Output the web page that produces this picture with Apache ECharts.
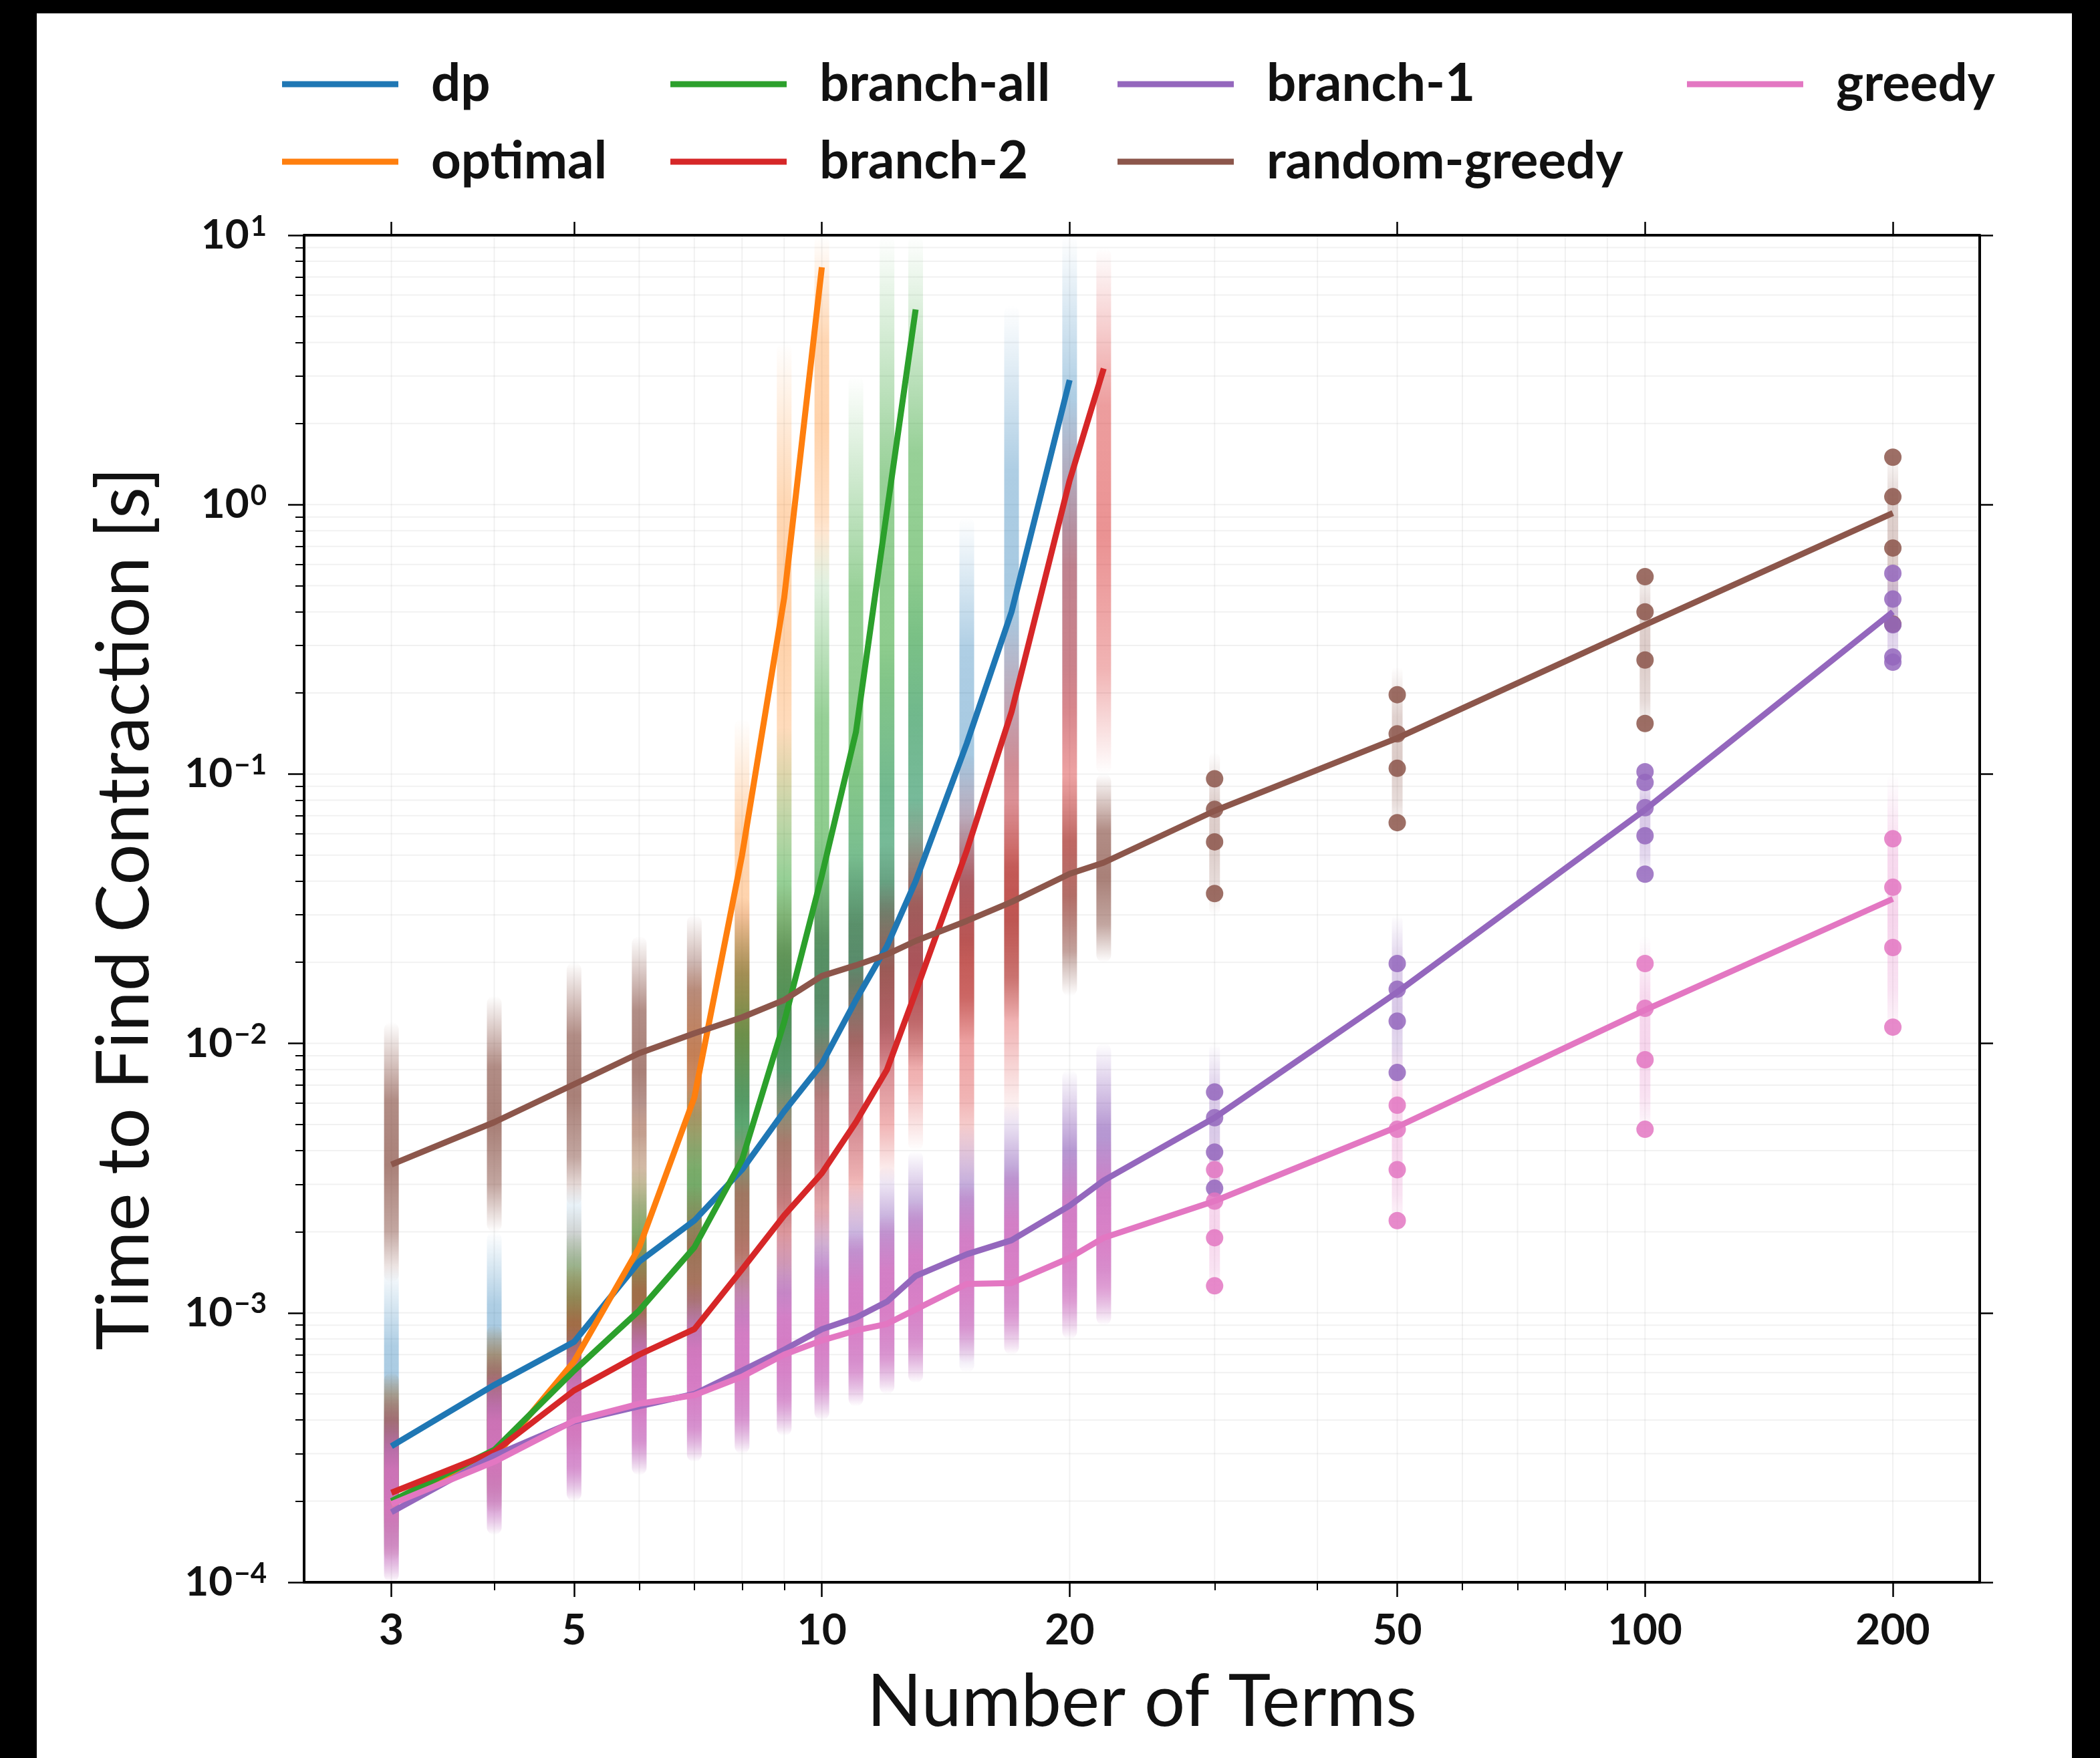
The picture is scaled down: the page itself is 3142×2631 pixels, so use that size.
<!DOCTYPE html>
<html>
<head>
<meta charset="utf-8">
<script src="https://cdn.jsdelivr.net/npm/echarts@6/dist/echarts.min.js"></script>
<style>
html,body{margin:0;padding:0;background:#000;}
#frame{position:absolute;left:55px;top:20px;width:3045px;height:2611px;background:#fff;overflow:hidden;}
#chart{position:absolute;left:-55px;top:-20px;width:3142px;height:2631px;}
</style>
</head>
<body>
<div id="frame"><div id="chart"></div></div>
<script>
// ---------------- data ----------------
const terms = [3, 4, 5, 6, 7, 8, 9, 10, 11, 12, 13, 15, 17, 20, 22, 30, 50, 100, 200];
const xMajorTicks = [3, 5, 10, 20, 50, 100, 200];
const xMinorTicks = [4, 6, 7, 8, 9, 30, 40, 60, 70, 80, 90];
const yDecades = [1e-4, 1e-3, 1e-2, 1e-1, 1, 10];

const dpTime = [3.2e-4, 5.4e-4, 7.8e-4, 1.55e-3, 2.2e-3, 3.4e-3, 5.6e-3, 8.4e-3, 1.45e-2, 2.3e-2, 4.0e-2, 0.13, 0.40, 2.9];
const optimalTime = [1.95e-4, 2.9e-4, 6.6e-4, 1.75e-3, 6.3e-3, 0.05, 0.45, 7.6];
const branchAllTime = [2.0e-4, 3.1e-4, 6.1e-4, 1.02e-3, 1.75e-3, 3.7e-3, 0.012, 0.042, 0.143, 0.95, 5.3];
const branch2Time = [2.15e-4, 3.05e-4, 5.15e-4, 7.0e-4, 8.7e-4, 1.45e-3, 2.3e-3, 3.3e-3, 5.1e-3, 8.0e-3, 1.55e-2, 0.052, 0.17, 1.23, 3.2];
const branch1Time = [1.82e-4, 2.95e-4, 3.95e-4, 4.5e-4, 5.0e-4, 6.1e-4, 7.3e-4, 8.7e-4, 9.6e-4, 1.1e-3, 1.37e-3, 1.65e-3, 1.86e-3, 2.5e-3, 3.1e-3, 5.3e-3, 0.0155, 0.0737, 0.40];
const randomGreedyTime = [3.55e-3, 5.1e-3, 7.05e-3, 9.2e-3, 1.09e-2, 1.25e-2, 1.45e-2, 1.78e-2, 1.95e-2, 2.14e-2, 2.4e-2, 2.85e-2, 3.35e-2, 4.26e-2, 4.69e-2, 7.3e-2, 0.136, 0.358, 0.93];
const greedyTime = [1.95e-4, 2.8e-4, 3.98e-4, 4.6e-4, 4.95e-4, 5.8e-4, 7.0e-4, 7.9e-4, 8.6e-4, 9.1e-4, 1.03e-3, 1.28e-3, 1.29e-3, 1.6e-3, 1.9e-3, 2.6e-3, 4.9e-3, 0.0133, 0.0344];

// spread of the individual samples: [terms, low, high]
const dpSpread = [[3,1.5e-4,1.5e-3],[4,2.5e-4,2e-3],[5,3.5e-4,3e-3],[6,5e-4,5e-3],[7,8e-4,8e-3],[8,1e-3,1.5e-2],[9,1.5e-3,3e-2],[10,2e-3,6e-2],[11,3e-3,0.12],[12,5e-3,0.3],[13,8e-3,0.6],[15,0.02,0.9],[17,0.05,5.5],[20,0.1,10]];
const optimalSpread = [[3,1.2e-4,6e-4],[4,1.8e-4,9e-4],[5,3e-4,2.5e-3],[6,6e-4,6e-3],[7,1.5e-3,0.02],[8,6e-3,0.16],[9,0.04,4],[10,0.5,10]];
const branchAllSpread = [[3,1.2e-4,6e-4],[4,1.8e-4,9e-4],[5,3e-4,2e-3],[6,4e-4,3.5e-3],[7,6e-4,7e-3],[8,1e-3,0.03],[9,2e-3,0.15],[10,4e-3,0.8],[11,6e-3,3],[12,0.01,10],[13,0.02,10]];
const branch2Spread = [[3,1.5e-4,6e-4],[4,2e-4,9e-4],[5,3e-4,1.5e-3],[6,4e-4,2e-3],[7,5e-4,3e-3],[8,7e-4,5e-3],[9,1e-3,8e-3],[10,1.5e-3,0.012],[11,2e-3,0.02],[12,3e-3,0.04],[13,4e-3,0.08],[15,3e-3,0.12],[17,5e-3,0.4],[20,0.02,2.5],[22,0.1,9]];
const branch1Spread = [[3,1e-4,5e-4],[4,1.5e-4,7e-4],[5,2e-4,9e-4],[6,2.5e-4,1.1e-3],[7,2.8e-4,1.3e-3],[8,3e-4,1.6e-3],[9,3.5e-4,2e-3],[10,4e-4,2.5e-3],[11,4.5e-4,3e-3],[12,5e-4,3.5e-3],[13,5.5e-4,4e-3],[15,6e-4,5e-3],[17,7e-4,6e-3],[20,8e-4,8e-3],[22,9e-4,1e-2]];
const randomGreedySpread = [[3,1.3e-3,1.2e-2],[4,2e-3,1.5e-2],[5,2.5e-3,2e-2],[6,3e-3,2.5e-2],[7,3.5e-3,3e-2],[8,4e-3,0.035],[9,5e-3,0.04],[10,6e-3,0.045],[11,7e-3,0.05],[12,8e-3,0.055],[13,8e-3,0.06],[15,0.01,0.07],[17,0.012,0.08],[20,0.015,0.1],[22,0.02,0.1]];
const greedySpread = [[3,1e-4,4e-4],[4,1.5e-4,6e-4],[5,2e-4,8e-4],[6,2.5e-4,1e-3],[7,2.8e-4,1.1e-3],[8,3e-4,1.3e-3],[9,3.5e-4,1.5e-3],[10,4e-4,1.8e-3],[11,4.5e-4,2e-3],[12,5e-4,2.3e-3],[13,5.5e-4,2.6e-3],[15,6.5e-4,3e-3],[17,7e-4,3.5e-3],[20,8e-4,4e-3],[22,9e-4,4.5e-3]];
// faint tails around the separate dots at large term counts
const randomGreedyTail = [[30,0.03,0.12],[50,0.06,0.25],[100,0.14,0.6],[200,0.33,1.6]];
const branch1Tail = [[30,2.5e-3,1e-2],[50,7e-3,0.03],[100,0.04,0.11],[200,0.25,0.6]];
const greedyTail = [[30,1.1e-3,4.5e-3],[50,2e-3,0.01],[100,4.5e-3,0.025],[200,0.01,0.1]];

// individual samples visible as separate dots at large term counts: [terms, time]
const randomGreedyDots = [[30,0.096],[30,0.074],[30,0.056],[30,0.036],[50,0.197],[50,0.141],[50,0.105],[50,0.066],[100,0.54],[100,0.40],[100,0.265],[100,0.154],[200,1.50],[200,1.07],[200,0.69],[200,0.36]];
const branch1Dots = [[30,6.6e-3],[30,5.3e-3],[30,3.95e-3],[30,2.9e-3],[50,0.0198],[50,0.0159],[50,0.0121],[50,7.8e-3],[100,0.102],[100,0.093],[100,0.075],[100,0.059],[100,0.0425],[200,0.556],[200,0.446],[200,0.358],[200,0.272],[200,0.26]];
const greedyDots = [[30,3.4e-3],[30,2.6e-3],[30,1.9e-3],[30,1.26e-3],[50,5.9e-3],[50,4.8e-3],[50,3.4e-3],[50,2.2e-3],[100,0.0198],[100,0.0135],[100,8.7e-3],[100,4.8e-3],[200,0.0575],[200,0.038],[200,0.0227],[200,0.0115]];

// ---------------- chart ----------------
const FONT = 'Lato';
const C = {dp:'#1f77b4', optimal:'#ff7f0e', 'branch-all':'#2ca02c', 'branch-2':'#d62728',
           'branch-1':'#9467bd', 'random-greedy':'#8c564b', greedy:'#e377c2'};

function pairs(values){ return values.map((v,i)=>[terms[i], v]); }
function rgba(hex, a){
  const n = parseInt(hex.slice(1),16);
  return 'rgba('+((n>>16)&255)+','+((n>>8)&255)+','+(n&255)+','+a+')';
}
function strip(name, data, peak, width){
  const col = C[name];
  const w = width || 22;
  return {
    type:'custom', name: name+' samples', data: data, z: 1, silent: true, clip: true,
    encode:{x:0, y:[1,2]},
    renderItem: function(params, api){
      const x = api.value(0);
      const pLo = api.coord([x, api.value(1)]);
      const pHi = api.coord([x, api.value(2)]);
      return {type:'rect',
        shape:{x:pLo[0]-w/2, y:pHi[1], width:w, height:Math.max(1,pLo[1]-pHi[1]), r:w/2},
        style:{fill:new echarts.graphic.LinearGradient(0,0,0,1,[
          {offset:0, color:rgba(col,0)},
          {offset:0.15, color:rgba(col,peak*0.45)},
          {offset:0.3, color:rgba(col,peak*0.9)},
          {offset:0.55, color:rgba(col,peak)},
          {offset:0.8, color:rgba(col,peak*0.7)},
          {offset:1, color:rgba(col,0)}])}};
    }
  };
}
function dots(name, data){
  return {type:'scatter', name:name+' dots', data:data, z:2, silent:true,
    symbolSize:26, itemStyle:{color:C[name], opacity:0.85}};
}
function line(name, values){
  return {type:'line', name:name, data:pairs(values), z:5, symbol:'none', showSymbol:false,
    lineStyle:{color:C[name], width:9}, itemStyle:{color:C[name]}, silent:true};
}

const xGrid = [3,4,5,6,7,8,9,10,20,30,40,50,60,70,80,90,100,200];
const yGrid = [];
[1e-4,1e-3,1e-2,1e-1,1].forEach(d=>{ for(let k=1;k<10;k++) yGrid.push(d*k); });
yGrid.push(10);

const legendCommon = {orient:'vertical', top:78, icon:'rect', itemWidth:174, itemHeight:9,
  itemGap:30, textStyle:{fontFamily:FONT, fontSize:78, fontWeight:'bold', color:'#111',
  lineHeight:86, padding:[0,0,0,44]}};

const chart = echarts.init(document.getElementById('chart'), null, {renderer:'canvas'});
const axisLine = {show:true, onZero:false, lineStyle:{color:'#000', width:4}};
const noLine = {show:false, onZero:false};
const xBase = {type:'log', logBase:10, min:2.35, max:255, gridIndex:0, splitLine:{show:false}};
const yBase = {type:'log', logBase:10, min:1e-4, max:10, gridIndex:0, splitLine:{show:false}};
const GRIDC = 'rgba(0,0,0,0.055)';

chart.setOption({
  animation:false,
  backgroundColor:'transparent',
  grid:{left:455, top:352, width:2507, height:2016, containLabel:false},
  legend:[
    Object.assign({left:417, data:['dp','optimal']}, legendCommon),
    Object.assign({left:998, data:['branch-all','branch-2']}, legendCommon),
    Object.assign({left:1667, data:['branch-1','random-greedy']}, legendCommon),
    Object.assign({left:2519, data:['greedy']}, legendCommon)
  ],
  xAxis:[
    Object.assign({}, xBase, {position:'bottom', axisLine:axisLine,
      name:'Number of Terms', nameLocation:'middle', nameGap:126,
      nameTextStyle:{fontFamily:FONT, fontSize:108, color:'#111'},
      axisTick:{show:true, inside:false, length:22, customValues:xMajorTicks, lineStyle:{color:'#000', width:2.5}},
      axisLabel:{show:true, customValues:xMajorTicks, margin:40, fontFamily:FONT, fontSize:64, fontWeight:'bold', color:'#111',
        formatter:(v)=>String(Math.round(v))}}),
    Object.assign({}, xBase, {position:'bottom', axisLine:noLine,
      axisTick:{show:true, length:12, customValues:xMinorTicks, lineStyle:{color:'#000', width:2}},
      axisLabel:{show:false}}),
    Object.assign({}, xBase, {position:'top', axisLine:axisLine,
      axisTick:{show:true, length:20, customValues:xMajorTicks, lineStyle:{color:'#000', width:2.5}},
      axisLabel:{show:false}})
  ],
  yAxis:[
    Object.assign({}, yBase, {position:'left', axisLine:axisLine,
      name:'Time to Find Contraction [s]', nameLocation:'middle', nameGap:214, nameRotate:90,
      nameTextStyle:{fontFamily:FONT, fontSize:108, color:'#111'},
      axisTick:{show:true, length:24, lineStyle:{color:'#000', width:2.5}},
      axisLabel:{show:true, margin:56, fontFamily:FONT, color:'#111',
        formatter:(v)=>{const e=Math.round(Math.log10(v)); return '{b|10}{s|'+(e<0?'\u2212'+(-e):e)+'}';},
        rich:{b:{fontFamily:FONT, fontSize:62, fontWeight:'bold', color:'#111', lineHeight:70},
              s:{fontFamily:FONT, fontSize:42, fontWeight:'bold', color:'#111', lineHeight:70, padding:[0,0,26,2]}}}}),
    Object.assign({}, yBase, {position:'left', axisLine:noLine,
      axisTick:{show:true, length:13, customValues:yGrid.filter(v=>!yDecades.some(d=>Math.abs(d-v)/d<1e-6)), lineStyle:{color:'#000', width:2}},
      axisLabel:{show:false}}),
    Object.assign({}, yBase, {position:'right', axisLine:axisLine,
      axisTick:{show:true, length:20, lineStyle:{color:'#000', width:2.5}},
      axisLabel:{show:false}})
  ],
  series:[
    {type:'custom', name:'vertical grid', data:xGrid.map(v=>[v, 1]), z:0, silent:true,
     encode:{x:0, y:1},
     renderItem:function(params, api){
       const cs = params.coordSys; const p = api.coord([api.value(0), api.value(1)]);
       return {type:'line', shape:{x1:p[0], y1:cs.y, x2:p[0], y2:cs.y+cs.height}, style:{stroke:GRIDC, lineWidth:2}};
     }},
    {type:'custom', name:'horizontal grid', data:yGrid.map(v=>[10, v]), z:0, silent:true,
     encode:{x:0, y:1},
     renderItem:function(params, api){
       const cs = params.coordSys; const p = api.coord([api.value(0), api.value(1)]);
       return {type:'line', shape:{x1:cs.x, y1:p[1], x2:cs.x+cs.width, y2:p[1]}, style:{stroke:GRIDC, lineWidth:2}};
     }},
    strip('random-greedy', randomGreedySpread, 0.75),
    strip('dp', dpSpread, 0.4),
    strip('optimal', optimalSpread, 0.35),
    strip('branch-all', branchAllSpread, 0.55),
    strip('branch-2', branch2Spread, 0.5),
    strip('branch-1', branch1Spread, 0.75),
    strip('greedy', greedySpread, 0.75),
    strip('random-greedy', randomGreedyTail, 0.3, 16),
    strip('branch-1', branch1Tail, 0.35, 16),
    strip('greedy', greedyTail, 0.3, 16),
    dots('random-greedy', randomGreedyDots),
    dots('branch-1', branch1Dots),
    dots('greedy', greedyDots),
    line('dp', dpTime),
    line('optimal', optimalTime),
    line('branch-all', branchAllTime),
    line('branch-2', branch2Time),
    line('branch-1', branch1Time),
    line('random-greedy', randomGreedyTime),
    line('greedy', greedyTime)
  ]
});
</script>
</body>
</html>
